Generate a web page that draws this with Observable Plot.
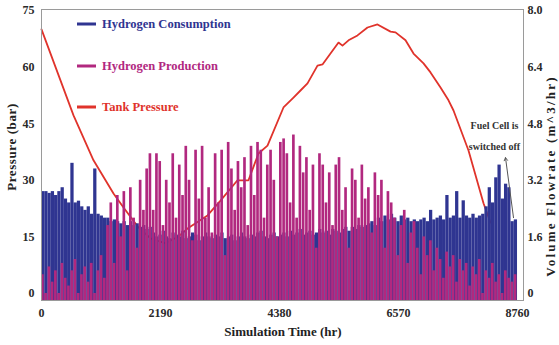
<!DOCTYPE html>
<html>
<head>
<meta charset="utf-8">
<script src="https://cdn.jsdelivr.net/npm/d3@7"></script>
<script src="https://cdn.jsdelivr.net/npm/@observablehq/plot@0.6"></script>
<style>
  body { margin: 0; background: #fff; }
  #chart { position: relative; width: 559px; height: 345px; font-family: "Liberation Serif", "Times New Roman", serif; }
  .legend { position: absolute; left: 77px; transform: translateY(-50%); display: flex; align-items: center;
            font-weight: bold; font-size: 12.5px; white-space: nowrap; }
  .legend .swatch { display: inline-block; width: 19px; height: 3px; margin-right: 6px; }
  .axis-title { position: absolute; font-weight: bold; font-size: 13px; color: #222; white-space: nowrap;
                transform: translate(-50%, -50%); }
</style>
</head>
<body>
<div id="chart"></div>
<script>
// Hourly simulation summarised in 60-hour bins (146 bins over 8760 h)
const binHours = 60;

// Hydrogen consumption per bin (m^3/hr)
const consumption = [
  2.88, 2.88, 2.83, 2.88, 2.77, 2.88, 2.99, 2.67, 2.56, 3.68,
  2.56, 2.61, 2.45, 2.35, 2.45, 2.24, 3.52, 2.24, 2.19, 2.13,
  2.13, 2.03, 2.08, 2.03, 1.97, 2.03, 1.92, 2.03, 1.92, 1.97,
  1.87, 1.92, 1.81, 1.87,
  1.71, 1.60, 1.65, 1.76, 1.60, 1.55, 1.71, 1.65, 1.60, 1.76,
  1.55, 1.60, 1.71, 1.65, 1.49, 1.60, 1.71, 1.60, 1.55, 1.65,
  1.60, 1.71, 1.55, 1.60, 1.65, 1.49, 1.60, 1.71, 1.60, 1.55,
  1.65, 1.60, 1.71, 1.76, 1.60, 1.55, 1.65, 1.71, 1.60, 1.65,
  1.71, 1.60, 1.76, 1.65, 1.71, 1.81, 1.65, 1.71, 1.76, 1.65,
  1.71, 1.81, 1.71, 1.76, 1.65, 1.81, 1.76, 1.71, 1.81, 1.87,
  1.76, 1.87, 1.81, 1.92, 1.87, 1.92,
  1.97, 2.03, 1.92, 2.13, 2.03, 2.19, 2.08, 2.24, 2.13, 2.03,
  2.19, 2.08, 2.13, 2.03, 2.08,
  2.03, 2.08, 2.13, 2.03, 2.35, 2.08, 2.13, 2.19, 2.08, 2.77,
  2.13, 2.19, 2.88, 2.13, 2.62, 2.19, 2.13, 2.24, 2.13, 2.19,
  2.24, 2.45, 2.99, 2.56, 3.27, 3.63, 2.67, 3.09, 2.99, 2.03, 2.08
];

// Hydrogen production per bin (m^3/hr)
const production = [
  0.53, 0.00, 0.75, 0.32, 0.64, 0.00, 0.85, 0.43, 0.21, 0.64,
  0.96, 0.00, 0.53, 0.75, 0.32, 0.85, 0.00, 0.64, 1.07, 0.43,
  1.92, 2.56, 0.85, 2.77, 1.60, 2.88, 0.64, 2.99, 2.13, 1.28,
  3.20, 2.35, 3.52,
  3.95, 2.35, 3.95, 3.73, 1.92, 3.20, 2.56, 3.95, 2.13, 3.63,
  2.77, 4.16, 3.20, 1.49, 4.05, 2.67, 4.16, 2.13, 2.99, 1.71,
  3.95, 2.56, 4.05, 1.07, 4.27, 3.52, 2.35, 3.73, 2.99, 3.84,
  1.92, 4.16, 2.77, 4.27, 4.05, 2.13, 3.63, 4.05, 3.20, 1.60,
  4.27, 4.37, 3.95, 2.56, 4.48, 2.13, 4.16, 3.41, 3.84, 2.35,
  3.63, 1.28, 3.95, 3.63, 2.56, 3.41, 1.92, 3.63, 3.84, 2.35,
  2.99, 1.28, 3.52, 3.20, 2.13, 3.63, 2.67, 2.99, 1.71, 3.41,
  2.77, 3.20, 1.28, 2.88, 2.56, 2.13, 1.07, 1.92,
  2.35, 0.85, 1.71, 2.03, 1.28, 0.53, 1.60, 1.07, 1.49, 0.64,
  1.28, 0.96, 0.43, 1.17, 0.75, 1.07, 0.32, 0.96, 0.64, 0.85,
  0.21, 0.75, 0.53, 0.96, 0.00, 0.64, 0.43, 0.85, 0.32, 0.53,
  0.00, 0.64, 0.43, 0.32, 0.53
];

// Tank pressure (bar) against simulation time (hr)
const pressureHours = [
  0, 589, 957, 1325, 1509, 1785, 2006, 2282, 2521, 2687,
  3055, 3294, 3607, 3809, 3993, 4159, 4453, 4637, 4766, 4895,
  5079, 5171, 5318, 5466, 5539, 5650, 5815, 5999, 6183, 6423,
  6515, 6699, 6846, 7030, 7159, 7343, 7490, 7582, 7858, 8134, 8263
];
const pressureBar = [
  70.0, 47.2, 35.3, 26.5, 22.8, 17.5, 14.6, 13.3, 15.1, 17.2,
  20.7, 24.6, 30.0, 30.0, 37.1, 39.2, 49.3, 51.9, 53.8, 55.7,
  60.4, 60.7, 63.6, 66.5, 65.7, 67.1, 68.4, 70.5, 71.3, 69.4,
  69.2, 67.1, 63.6, 61.0, 58.6, 54.6, 51.2, 48.5, 37.9, 23.9, 18.8
];

const timeTicks = [0, 2190, 4380, 6570, 8760];
const pressureTicks = [0, 15, 30, 45, 60, 75];
const flowTicks = [0, 1.6, 3.2, 4.8, 6.4, 8.0];

const series = [
  {name: "Hydrogen Consumption", color: "#2f3591", row: 24},
  {name: "Hydrogen Production",  color: "#b1287f", row: 66},
  {name: "Tank Pressure",        color: "#e0332b", row: 107}
];
const [blue, magenta, red] = series.map(s => s.color);

// The flowrate axis (right) shares the pressure scale: 8 m^3/hr spans the same height as 75 bar
const flowToBar = 75 / 8;
const yDomain = [-1.86, 75.27];
const xDomain = [0, 8870];

// "Fuel Cell is switched off" note, placed in data coordinates
const note = {hour: 8336, bar: 42.5, text: "Fuel Cell is\nswitched off"};
const noteArrow = {x1: 8686, y1: 20.1, x2: 8539, y2: 36.0};

const bins = d3.range(consumption.length);
const pressure = pressureHours.map((h, i) => ({hour: h, bar: pressureBar[i]}));

const plot = Plot.plot({
  width: 559,
  height: 345,
  marginLeft: 41,
  marginRight: 36,
  marginTop: 9,
  marginBottom: 45,
  x: {domain: xDomain},
  y: {domain: yDomain},
  style: {fontFamily: '"Liberation Serif", "Times New Roman", serif', fontSize: "12px", fontWeight: "bold", color: "#2a2a2a", background: "white"},
  marks: [
    Plot.line(pressure, {x: "hour", y: "bar", stroke: red, strokeWidth: 1.8}),
    Plot.rect(bins, {x1: i => i * binHours, x2: i => (i + 1) * binHours,
                     y1: yDomain[0], y2: i => consumption[i] * flowToBar, fill: blue}),
    Plot.rect(bins, {x1: i => i * binHours, x2: i => (i + 1) * binHours,
                     y1: yDomain[0], y2: i => production[i] * flowToBar, fill: magenta,
                     insetRight: 0.6}),
    Plot.frame({stroke: "#9a9a9a", strokeWidth: 1}),
    Plot.axisX(timeTicks, {tickSize: 0, tickPadding: 8, label: null, tickFormat: d => String(d)}),
    Plot.axisY(pressureTicks, {anchor: "left", tickSize: 0, tickPadding: 7, label: null}),
    Plot.axisY(flowTicks.map(f => f * flowToBar), {
      anchor: "right", tickSize: 0, tickPadding: 4, label: null,
      tickFormat: d => { const f = d / flowToBar; return f === 0 ? "0" : f.toFixed(1); }
    }),
    Plot.text([note], {x: "hour", y: "bar", text: "text", fontSize: 10, lineHeight: 2.1,
                       textAnchor: "middle", fill: "#333"}),
    Plot.arrow([noteArrow], {x1: "x1", y1: "y1", x2: "x2", y2: "y2", stroke: "#555",
                             strokeWidth: 1, headLength: 5})
  ]
});

const chart = document.getElementById("chart");
chart.appendChild(plot);

// Legend drawn inside the plot area
for (const s of series) {
  const item = document.createElement("div");
  item.className = "legend";
  item.style.top = s.row + "px";
  item.style.color = s.color;
  item.innerHTML = `<span class="swatch" style="background:${s.color}"></span>${s.name}`;
  chart.appendChild(item);
}

// Axis titles
const titles = [
  {text: "Simulation Time (hr)", x: 283, y: 332, rotate: 0, spacing: 0},
  {text: "Pressure (bar)", x: 12, y: 147, rotate: -90, spacing: 0.6},
  {text: "Volume Flowrate (m^3/hr)", x: 551, y: 176, rotate: -90, spacing: 2.2}
];
for (const t of titles) {
  const el = document.createElement("div");
  el.className = "axis-title";
  el.textContent = t.text;
  el.style.left = t.x + "px";
  el.style.top = t.y + "px";
  el.style.letterSpacing = t.spacing + "px";
  el.style.transform = `translate(-50%, -50%) rotate(${t.rotate}deg)`;
  chart.appendChild(el);
}
</script>
</body>
</html>
